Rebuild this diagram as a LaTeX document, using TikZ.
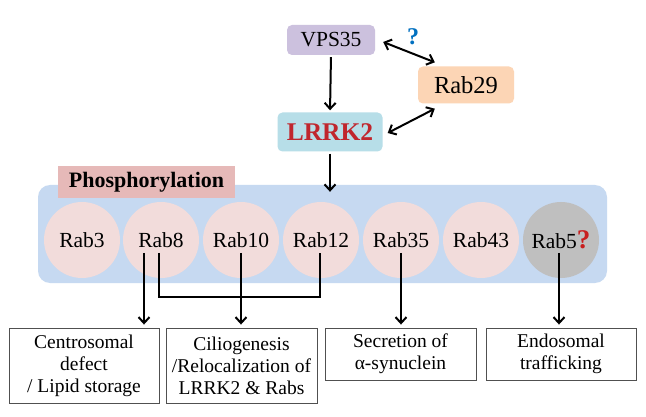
\documentclass[tikz,border=0pt]{standalone}
\usepackage{fontspec}
\setmainfont{Liberation Serif}
\usetikzlibrary{arrows.meta,calc}
\definecolor{vpsc}{RGB}{204,193,222}
\definecolor{rab29c}{RGB}{252,213,181}
\definecolor{lrrkc}{RGB}{183,222,232}
\definecolor{lrrkt}{RGB}{192,38,45}
\definecolor{panelc}{RGB}{198,217,241}
\definecolor{phosc}{RGB}{230,185,184}
\definecolor{circc}{RGB}{242,220,219}
\definecolor{grayc}{RGB}{191,191,191}
\definecolor{qblue}{RGB}{0,112,192}
\definecolor{qred}{RGB}{200,30,30}
\definecolor{boxline}{RGB}{80,80,80}
\begin{document}
\begin{tikzpicture}[x=1pt,y=-1pt,
  topbox/.style={rectangle,rounded corners=5pt,inner sep=0pt},
  rabc/.style={circle,fill=circc,minimum size=76pt,inner sep=0pt,font=\fontsize{21.5}{21.5}\selectfont},
  outbox/.style={rectangle,draw=boxline,line width=0.9pt,fill=white,inner sep=0pt,align=center,
    font=\fontsize{19.5}{22}\selectfont},
  tip/.tip={Straight Barb[length=6pt,width=11pt,line width=2pt]},
  arr/.style={line width=2pt,-tip},
  darr/.style={line width=2pt,tip-tip},
  ln/.style={line width=2pt}]
\useasboundingbox (0,0) rectangle (646,417);
\fill[white] (0,0) rectangle (646,417);

% top boxes
\node[topbox,fill=vpsc,minimum width=88pt,minimum height=30pt,font=\fontsize{21.5}{21.5}\selectfont] (vps) at (331,40) {VPS35};
\node[topbox,fill=rab29c,minimum width=96pt,minimum height=37pt,font=\fontsize{24.5}{24.5}\selectfont] (rab29) at (466,85) {Rab29};
\node[topbox,fill=lrrkc,minimum width=105pt,minimum height=39pt,font=\fontsize{25.5}{25.5}\selectfont\bfseries,text=lrrkt] (lrrk) at (330,132) {LRRK2};
\node[font=\fontsize{24}{24}\selectfont\bfseries,text=qblue] (q1) at (413,37) {?};

\draw[darr] ($(vps.east)+(8,2)$) -- ($(rab29.north west)+(17,-4)$);
\draw[darr] ($(lrrk.east)+(5,1)$) -- ($(rab29.south west)+(17,5)$);
\draw[arr,shorten <=2pt,shorten >=2pt] (vps.south) -- (lrrk.north);

% panel
\node[rectangle,rounded corners=12pt,fill=panelc,minimum width=569pt,minimum height=98pt,inner sep=0pt] (panel) at (322.5,234) {};
\node[rectangle,fill=phosc,minimum width=177pt,minimum height=32pt,inner sep=0pt,font=\fontsize{22}{22}\selectfont\bfseries] (phos) at (146.5,182) {Phosphorylation};
\draw[arr,shorten <=2pt,shorten >=-7pt] (lrrk.south) -- (lrrk.south |- panel.north);

% Rab circles
\node[rabc] (r3) at (82,240) {Rab3};
\node[rabc] (r8) at (161,240) {Rab8};
\node[rabc] (r10) at (241,240) {Rab10};
\node[rabc] (r12) at (321,240) {Rab12};
\node[rabc] (r35) at (401,240) {Rab35};
\node[rabc] (r43) at (481,240) {Rab43};
\node[rabc,fill=grayc] (r5) at (561,240) {Rab5\textcolor{qred}{\fontsize{27}{27}\selectfont\bfseries ?}};

% output boxes
\node[outbox,minimum width=150pt,minimum height=75pt] (c1) at (84,365.5) {Centrosomal\\defect\\/ Lipid storage};
\node[outbox,minimum width=151pt,minimum height=75pt] (c2) at (241.5,365.5) {Ciliogenesis\\/Relocalization of\\LRRK2 \& Rabs};
\node[outbox,minimum width=151pt,minimum height=52pt] (c3) at (400.5,354) {Secretion of\\α-synuclein};
\node[outbox,minimum width=150pt,minimum height=52pt] (c4) at (561,354) {Endosomal\\trafficking};

% connectors
\coordinate (a8) at ($(r8)+(-17,13)$);
\coordinate (b8) at ($(r8)+(-2,13)$);
\coordinate (a10) at ($(r10)+(0,13)$);
\coordinate (a12) at ($(r12)+(-1,13)$);
\coordinate (a35) at ($(r35)+(0,13)$);
\coordinate (a5) at ($(r5)+(-2,13)$);
\coordinate (h8) at ($(b8)+(0,44)$);
\draw[arr,shorten >=3pt] (a8) -- (a8 |- c1.north);
\draw[ln] (b8) -- (h8) -- (h8 -| a12) -- (a12);
\draw[arr,shorten >=3pt] (a10) -- (a10 |- c2.north);
\draw[arr,shorten >=3pt] (a35) -- (a35 |- c3.north);
\draw[arr,shorten >=3pt] (a5) -- (a5 |- c4.north);
\end{tikzpicture}
\end{document}
